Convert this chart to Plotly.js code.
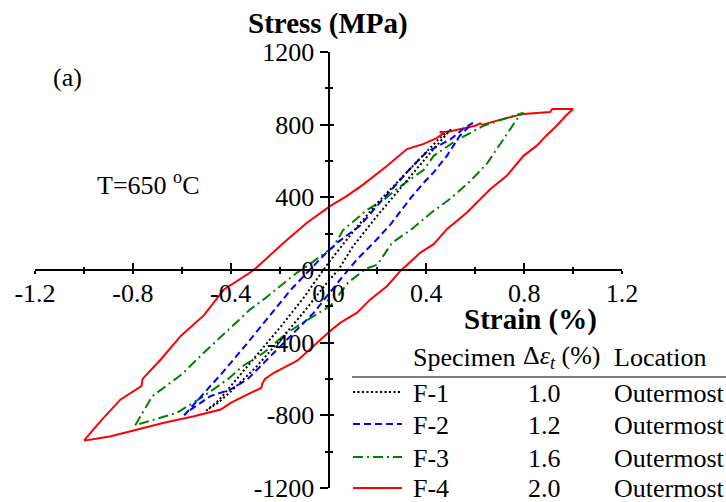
<!DOCTYPE html>
<html>
<head>
<meta charset="utf-8">
<script src="https://cdn.plot.ly/plotly-3.0.1.min.js"></script>
<style>html,body{margin:0;padding:0;background:#fff;}#chart{width:726px;height:502px;}</style>
</head>
<body>
<div id="chart"></div>
<script>
// ---------- data (strain %, stress MPa) ----------
// F-1 (dotted black)
const f1UpStrain   = [-0.50,-0.45,-0.40,-0.30,-0.20,-0.10,-0.02,0.00,0.10,0.20,0.30,0.40,0.45,0.50];
const f1UpStress   = [-775,-720,-640,-480,-320,-150,0,40,210,370,510,650,720,775];
const f1DownStrain = [0.50,0.45,0.40,0.30,0.20,0.10,0.04,0.00,-0.10,-0.20,-0.30,-0.40,-0.45,-0.50];
const f1DownStress = [775,700,620,460,300,130,0,-60,-230,-390,-540,-670,-730,-775];
// F-2 (dashed blue)
const f2UpStrain   = [-0.59,-0.51,-0.43,-0.33,-0.24,-0.155,-0.087,-0.02,0.04,0.13,0.19,0.266,0.335,0.40,0.50,0.55,0.59];
const f2UpStress   = [-800,-680,-560,-400,-250,-110,-14,80,155,245,340,455,560,648,721,777,810];
const f2DownStrain = [0.59,0.537,0.484,0.43,0.39,0.335,0.253,0.185,0.117,0.049,-0.005,-0.06,-0.128,-0.196,-0.264,-0.332,-0.40,-0.483,-0.563,-0.59];
const f2DownStress = [810,740,629,538,482,395,250,151,59,-51,-142,-235,-327,-419,-511,-603,-658,-695,-769,-800];
// F-3 (dash-dot green)
const f3UpStrain   = [-0.79,-0.75,-0.72,-0.60,-0.51,-0.41,-0.32,-0.265,-0.128,-0.087,0.02,0.06,0.156,0.224,0.292,0.388,0.43,0.525,0.634,0.716,0.797];
const f3UpStress   = [-855,-760,-695,-575,-456,-330,-217,-162,-14,22,128,220,330,385,459,550,629,716,795,832,866];
const f3DownStrain = [0.797,0.77,0.70,0.65,0.58,0.50,0.42,0.34,0.26,0.20,0.15,0.08,0.01,-0.06,-0.17,-0.265,-0.35,-0.41,-0.51,-0.62,-0.73,-0.79];
const f3DownStress = [866,830,690,590,490,395,315,225,150,30,5,-70,-195,-254,-346,-456,-529,-600,-695,-787,-833,-855];
// F-4 (solid red)
const f4UpStrain   = [-1.00,-0.93,-0.85,-0.79,-0.765,-0.76,-0.686,-0.604,-0.51,-0.427,-0.332,-0.305,-0.182,-0.087,0.008,0.076,0.144,0.24,0.321,0.389,0.44,0.47,0.455,0.49,0.60,0.62,0.63,0.689,0.797,0.906,0.915,1.00];
const f4UpStress   = [-940,-830,-713,-660,-640,-600,-493,-363,-250,-107,-24,0,151,262,353,408,473,574,666,695,725,752,760,762,795,808,800,823,860,870,887,887];
const f4DownStrain = [1.00,0.97,0.933,0.89,0.852,0.797,0.729,0.661,0.566,0.484,0.43,0.376,0.294,0.24,0.171,0.117,0.049,0.008,-0.046,-0.128,-0.223,-0.26,-0.27,-0.275,-0.318,-0.40,-0.441,-0.55,-0.672,-0.78,-0.89,-0.95,-1.00];
const f4DownStress = [887,850,795,740,685,629,519,445,317,225,142,96,-5,-88,-162,-235,-290,-335,-401,-500,-566,-600,-625,-650,-677,-732,-769,-806,-842,-879,-916,-930,-940];

// ---------- labels ----------
const xTickVals = [-1.2,-0.8,-0.4,0,0.4,0.8,1.2];
const xTickText = ['-1.2','-0.8','-0.4','0.0','0.4','0.8','1.2'];
const xMinorVals = [-1.0,-0.6,-0.2,0.2,0.6,1.0];
const yTickVals = [-1200,-800,-400,0,400,800,1200];
const yTickText = ['-1200','-800','-400','0','400','800','1200'];
const yMinorVals = [-1000,-600,-200,200,600,1000];
const specimens = ['F-1','F-2','F-3','F-4'];
const strainRanges = ['1.0','1.2','1.6','2.0'];
const locations = ['Outermost','Outermost','Outermost','Outermost'];
const colors = ['#000000','#0000ff','#008000','#ff0000'];
const dashes = ['2px,2.5px','7px,4px','10px,4px,2px,4px','solid'];

const ups = [[f1UpStrain,f1UpStress],[f2UpStrain,f2UpStress],[f3UpStrain,f3UpStress],[f4UpStrain,f4UpStress]];
const downs = [[f1DownStrain,f1DownStress],[f2DownStrain,f2DownStress],[f3DownStrain,f3DownStress],[f4DownStrain,f4DownStress]];

const FONT = '"Liberation Serif"';
const traces = [];
for (let i = 3; i >= 0; i--) {
  traces.push({
    type:'scatter', mode:'lines',
    x: ups[i][0].concat(downs[i][0]),
    y: ups[i][1].concat(downs[i][1]),
    line:{color:colors[i], width:2, dash:dashes[i]},
    showlegend:false, hoverinfo:'skip'
  });
}
traces.push({type:'scatter', mode:'lines', x:[null], y:[null], xaxis:'x2', yaxis:'y2', showlegend:false, hoverinfo:'skip'});

// pixel -> paper helpers (plot area 35..622 x, 52..488 y)
const L = 35, R = 622, T = 52, B = 488;
const PX = p => (p - L) / (R - L);
const PY = p => (B - p) / (B - T);

const annotations = [
  {text:'<b>Stress (MPa)</b>', x:PX(328), y:PY(24), xanchor:'center', yanchor:'middle', font:{size:29}},
  {text:'<b>Strain (%)</b>', x:PX(530), y:PY(319), xanchor:'center', yanchor:'middle', font:{size:29}},
  {text:'(a)', x:PX(51), y:PY(77), xanchor:'left', yanchor:'middle', font:{size:26}},
  {text:'T=650 <sup>o</sup>C', x:PX(95), y:PY(184), xanchor:'left', yanchor:'middle', font:{size:26}},
  {text:'Specimen', x:PX(411), y:PY(357), xanchor:'left', yanchor:'middle', font:{size:26}},
  {text:'Δ<i>ε<sub>t</sub></i> (%)', x:PX(562), y:PY(357), xanchor:'center', yanchor:'middle', font:{size:26}},
  {text:'Location', x:PX(612), y:PY(357), xanchor:'left', yanchor:'middle', font:{size:26}}
];
const rowY = [393, 425, 458, 489];
const shapes = [
  {type:'line', xref:'paper', yref:'paper', x0:PX(352), x1:PX(726), y0:PY(377), y1:PY(377), line:{color:'#808080', width:2}}
];
for (let i = 0; i < 4; i++) {
  annotations.push({text:specimens[i], x:PX(411), y:PY(rowY[i]), xanchor:'left', yanchor:'middle', font:{size:26}});
  annotations.push({text:strainRanges[i], x:PX(544), y:PY(rowY[i]), xanchor:'center', yanchor:'middle', font:{size:26}});
  annotations.push({text:locations[i], x:PX(612), y:PY(rowY[i]), xanchor:'left', yanchor:'middle', font:{size:26}});
  shapes.push({type:'line', xref:'paper', yref:'paper', x0:PX(353), x1:PX(402), y0:PY(rowY[i]-1), y1:PY(rowY[i]-1),
    line:{color:colors[i], width:2, dash:dashes[i]}});
}
annotations.forEach(a => { a.showarrow = false; a.xref = 'paper'; a.yref = 'paper'; a.font.family = FONT; a.font.color = '#000'; });

const axFont = {family:FONT, size:26, color:'#000'};
const layout = {
  width:726, height:502,
  margin:{l:L, r:726-R, t:T, b:502-B, pad:0},
  paper_bgcolor:'#fff', plot_bgcolor:'#fff',
  font:{family:FONT, color:'#000'},
  showlegend:false,
  xaxis:{range:[-1.2,1.2], anchor:'free', position:0.5, showline:true, linewidth:2, linecolor:'#000',
    showgrid:false, zeroline:false, ticks:'outside', ticklen:3, tickwidth:2, tickcolor:'#000',
    tickmode:'array', tickvals:xTickVals, ticktext:xTickText, tickfont:axFont, ticklabeloverflow:'allow',
    ticklabelstandoff:-3,
    minor:{tickmode:'array', tickvals:xMinorVals, ticks:'outside', ticklen:3, tickwidth:2, tickcolor:'#000', showgrid:false}},
  xaxis2:{range:[-1.2,1.2], overlaying:'x', anchor:'free', position:0.5, showline:false, showgrid:false, zeroline:false,
    ticks:'inside', ticklen:7, tickwidth:2, tickcolor:'#000', showticklabels:false,
    tickmode:'array', tickvals:xTickVals,
    minor:{tickmode:'array', tickvals:xMinorVals, ticks:'inside', ticklen:3, tickwidth:2, tickcolor:'#000', showgrid:false}},
  yaxis:{range:[-1201,1201], anchor:'free', position:0.5, showline:true, linewidth:2, linecolor:'#000',
    showgrid:false, zeroline:false, ticks:'outside', ticklen:8, tickwidth:2, tickcolor:'#000',
    tickmode:'array', tickvals:yTickVals, ticktext:yTickText, tickfont:axFont, ticklabeloverflow:'allow',
    minor:{tickmode:'array', tickvals:yMinorVals, ticks:'outside', ticklen:3, tickwidth:2, tickcolor:'#000', showgrid:false}},
  yaxis2:{range:[-1201,1201], overlaying:'y', anchor:'free', position:0.5, showline:false, showgrid:false, zeroline:false,
    ticks:'inside', ticklen:4, tickwidth:2, tickcolor:'#000', showticklabels:false,
    tickmode:'array', tickvals:yTickVals,
    minor:{tickmode:'array', tickvals:yMinorVals, ticks:'inside', ticklen:3, tickwidth:2, tickcolor:'#000', showgrid:false}},
  annotations:annotations,
  shapes:shapes
};
Plotly.newPlot('chart', traces, layout, {staticPlot:true, displayModeBar:false});
</script>
</body>
</html>
